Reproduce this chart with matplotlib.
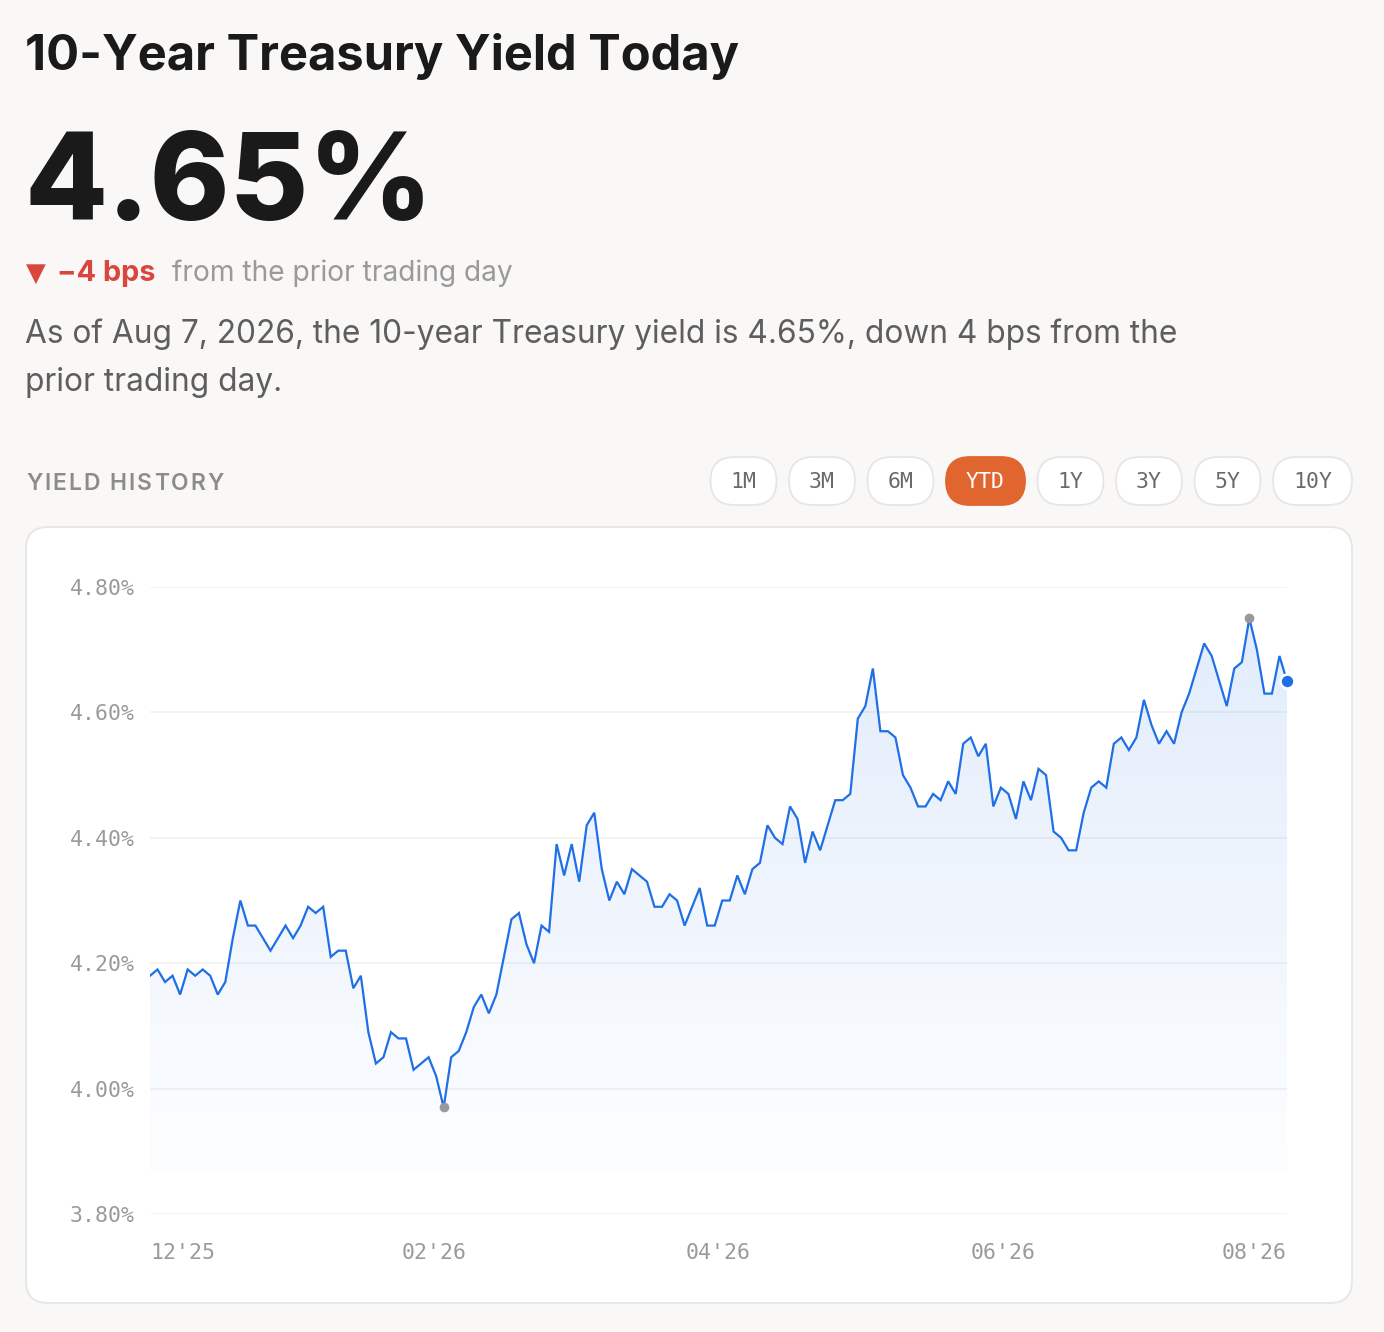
import numpy as np
import matplotlib
matplotlib.use("Agg")
import matplotlib.pyplot as plt
from matplotlib.patches import FancyBboxPatch, Polygon
from matplotlib.colors import to_rgb

# 10-year yield, YTD history (percent)
yields = [
    4.18, 4.19, 4.17, 4.18, 4.15, 4.19, 4.18, 4.19, 4.18, 4.15,
    4.17, 4.24, 4.30, 4.26, 4.26, 4.24, 4.22, 4.24, 4.26, 4.24,
    4.26, 4.29, 4.28, 4.29, 4.21, 4.22, 4.22, 4.16, 4.18, 4.09,
    4.04, 4.05, 4.09, 4.08, 4.08, 4.03, 4.04, 4.05, 4.02, 3.97,
    4.05, 4.06, 4.09, 4.13, 4.15, 4.12, 4.15, 4.21, 4.27, 4.28,
    4.23, 4.20, 4.26, 4.25, 4.39, 4.34, 4.39, 4.33, 4.42, 4.44,
    4.35, 4.30, 4.33, 4.31, 4.35, 4.34, 4.33, 4.29, 4.29, 4.31,
    4.30, 4.26, 4.29, 4.32, 4.26, 4.26, 4.30, 4.30, 4.34, 4.31,
    4.35, 4.36, 4.42, 4.40, 4.39, 4.45, 4.43, 4.36, 4.41, 4.38,
    4.42, 4.46, 4.46, 4.47, 4.59, 4.61, 4.67, 4.57, 4.57, 4.56,
    4.50, 4.48, 4.45, 4.45, 4.47, 4.46, 4.49, 4.47, 4.55, 4.56,
    4.53, 4.55, 4.45, 4.48, 4.47, 4.43, 4.49, 4.46, 4.51, 4.50,
    4.41, 4.40, 4.38, 4.38, 4.44, 4.48, 4.49, 4.48, 4.55, 4.56,
    4.54, 4.56, 4.62, 4.58, 4.55, 4.57, 4.55, 4.60, 4.63, 4.67,
    4.71, 4.69, 4.65, 4.61, 4.67, 4.68, 4.75, 4.70, 4.63, 4.63,
    4.69, 4.65,
]
y_ticks = [3.80, 4.00, 4.20, 4.40, 4.60, 4.80]
x_labels = ["12'25", "02'26", "04'26", "06'26", "08'26"]
ranges = ["1M", "3M", "6M", "YTD", "1Y", "3Y", "5Y", "10Y"]
active_range = "YTD"
as_of = "Aug 7, 2026"
change_bps = -4

current = yields[-1]
n = len(yields)
x = np.arange(n)
i_min = int(np.argmin(yields))
i_max = int(np.argmax(yields))

W, H = 1384, 1332
BLUE = "#1f6fe6"
GREY = "#999999"
FILL_BASE = 3.865

fig = plt.figure(figsize=(W / 100, H / 100), dpi=100)
fig.patch.set_facecolor("#f9f8f6")

# background layer in pixel coordinates (origin top-left)
bg = fig.add_axes([0, 0, 1, 1])
bg.set_xlim(0, W)
bg.set_ylim(H, 0)
bg.axis("off")

bg.text(25, 70, "10-Year Treasury Yield Today", family="Inter", fontsize=35.2,
        fontweight="bold", color="#1a1a1a", va="baseline")
bg.text(25, 220, f"{current:.2f}%", family="Inter", fontsize=87,
        fontweight="heavy", color="#1a1a1a", va="baseline")

bg.text(26, 281, "\u25BC", family="DejaVu Sans", fontsize=18.5, color="#d9463e", va="baseline")
bg.text(57, 281, f"\u2212{abs(change_bps)} bps", family=["Inter", "DejaVu Sans"],
        fontsize=20.8, fontweight="bold", color="#d9463e", va="baseline")
bg.text(172, 281, "from the prior trading day", family="Inter", fontsize=20.3,
        color="#9a9a9a", va="baseline")

para = [f"As of {as_of}, the 10-year Treasury yield is {current:.2f}%, down {abs(change_bps)} bps from the",
        "prior trading day."]
for k, line in enumerate(para):
    bg.text(25, 343 + 48 * k, line, family="Inter", fontsize=22.8,
            color="#5e5e5e", va="baseline")

# letter-spaced section label
renderer = fig.canvas.get_renderer()
cx = 26
for ch in "YIELD HISTORY":
    t = bg.text(cx, 490, ch, family="Inter", fontsize=16.5, fontweight="semibold",
                color="#8c8c8c", va="baseline")
    cx += t.get_window_extent(renderer).width + 2.1 if ch != " " else 7

# range buttons
gap = 12.5
widths = [40 + 13 * len(r) for r in ranges]
bx = 1352 - sum(widths) - gap * (len(ranges) - 1)
for r, w in zip(ranges, widths):
    on = r == active_range
    pill = FancyBboxPatch((bx + 24, 457 + 24), w - 48, 0,
                          boxstyle="round,pad=24", linewidth=1.3,
                          facecolor="#e0652f" if on else "white",
                          edgecolor="#e0652f" if on else "#e6e6e6")
    bg.add_patch(pill)
    bg.text(bx + w / 2, 482, r, family="DejaVu Sans Mono", fontsize=15.5,
            color="white" if on else "#6a6a6a", ha="center", va="center")
    bx += w + gap

# card
card = FancyBboxPatch((26 + 22, 527 + 22), 1326 - 44, 776 - 44,
                      boxstyle="round,pad=22", linewidth=1.4,
                      facecolor="white", edgecolor="#e7e7e5")
bg.add_patch(card)

# chart
ax = fig.add_axes([150 / W, (H - 1214) / H, 1137 / W, 627 / H])
ax.set_facecolor("none")

grad = np.zeros((256, 1, 4))
grad[..., :3] = to_rgb(BLUE)
grad[..., 3] = np.linspace(0.14, 0.01, 256)[:, None]
im = ax.imshow(grad, extent=[0, n - 1, FILL_BASE, max(y_ticks)], aspect="auto",
               origin="upper", zorder=1)
verts = list(zip(x, yields)) + [(n - 1, FILL_BASE), (0, FILL_BASE)]
area = Polygon(verts, closed=True, facecolor="none", edgecolor="none")
ax.add_patch(area)
im.set_clip_path(area)

ax.plot(x, yields, color=BLUE, lw=1.6, zorder=3, solid_joinstyle="miter")
ax.plot([i_min, i_max], [yields[i_min], yields[i_max]], "o", color=GREY,
        ms=7, mew=0, zorder=4, clip_on=False)
ax.plot(x[-1], yields[-1], "o", color=BLUE, ms=10, mec="white", mew=1.8,
        zorder=5, clip_on=False)

ax.set_xlim(0, n - 1)
ax.set_ylim(min(y_ticks), max(y_ticks))
ax.set_yticks(y_ticks)
ax.set_yticklabels([f"{v:.2f}%" for v in y_ticks])
ax.set_xticks(np.linspace(0, n - 1, len(x_labels)))
ax.set_xticklabels(x_labels)
labs = ax.get_xticklabels()
labs[0].set_ha("left")
labs[-1].set_ha("right")
ax.grid(axis="y", color="#f0f0f0", lw=1.1)
ax.set_axisbelow(True)
for s in ax.spines.values():
    s.set_visible(False)
ax.tick_params(length=0, labelsize=15.5, labelcolor="#9a9a9a")
ax.tick_params(axis="y", pad=11)
ax.tick_params(axis="x", pad=21)
for lab in ax.get_xticklabels() + ax.get_yticklabels():
    lab.set_family("DejaVu Sans Mono")

fig.savefig("out.png", dpi=100, facecolor=fig.get_facecolor())
